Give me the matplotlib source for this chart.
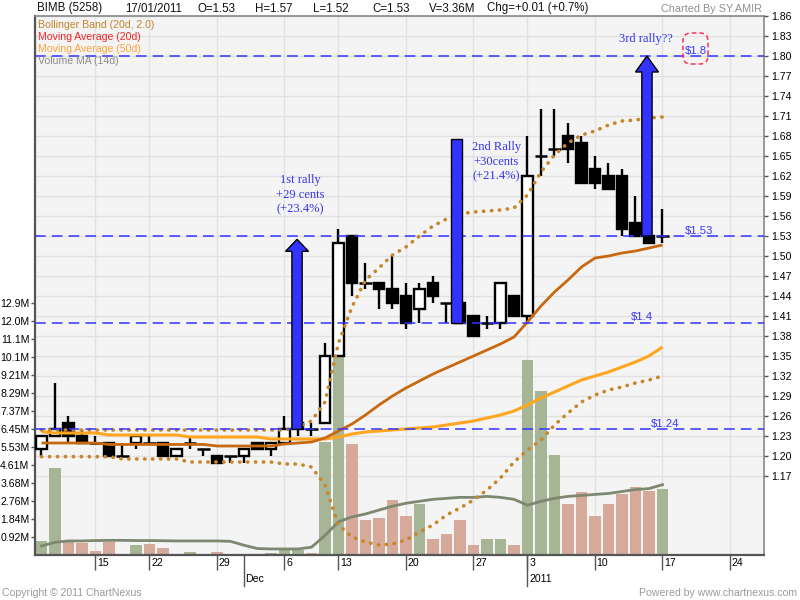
import matplotlib
matplotlib.use("Agg")
import matplotlib.pyplot as plt
import matplotlib.transforms as mtransforms
from matplotlib.patches import Rectangle, Polygon, FancyBboxPatch
import numpy as np

plt.rcParams['font.family'] = ['Liberation Sans', 'DejaVu Sans']

# ---------------- data ----------------
opens  = [1.21,1.23,1.25,1.23,1.22,1.22,1.20,1.22,1.22,1.22,1.20,1.22,1.21,1.20,1.20,1.20,1.22,1.21,1.22,1.24,
          1.24,1.25,1.35,1.53,1.46,1.46,1.45,1.44,1.42,1.46,1.43,1.43,1.41,1.40,1.40,1.44,1.41,1.65,1.66,1.68,
          1.67,1.63,1.62,1.62,1.55,1.53,1.53]
highs  = [1.23,1.31,1.26,1.24,1.23,1.22,1.22,1.23,1.23,1.22,1.21,1.23,1.21,1.20,1.20,1.21,1.22,1.22,1.26,1.25,
          1.25,1.37,1.54,1.53,1.49,1.46,1.50,1.46,1.46,1.47,1.43,1.43,1.41,1.41,1.46,1.44,1.68,1.72,1.72,1.70,
          1.68,1.65,1.64,1.63,1.59,1.53,1.57]
lows   = [1.20,1.23,1.22,1.22,1.22,1.20,1.20,1.21,1.22,1.20,1.20,1.21,1.20,1.19,1.19,1.19,1.21,1.20,1.22,1.23,
          1.23,1.25,1.35,1.44,1.45,1.42,1.42,1.39,1.40,1.43,1.40,1.40,1.38,1.39,1.39,1.41,1.40,1.62,1.65,1.64,
          1.61,1.60,1.60,1.53,1.53,1.52,1.52]
closes = [1.23,1.24,1.23,1.22,1.22,1.20,1.20,1.23,1.22,1.20,1.21,1.22,1.21,1.19,1.20,1.21,1.21,1.22,1.24,1.25,
          1.24,1.35,1.52,1.46,1.46,1.45,1.43,1.40,1.45,1.44,1.43,1.40,1.38,1.40,1.46,1.41,1.62,1.65,1.66,1.66,
          1.61,1.61,1.60,1.54,1.53,1.52,1.53]
volumes_m = [0.72,4.47,0.68,0.63,0.22,0.68,0.0,0.51,0.56,0.37,0.05,0.17,0.0,0.17,0.07,0.07,0.07,0.12,0.36,0.26,
             0.12,5.8,12.9,5.68,1.8,1.9,2.8,2.0,2.6,0.8,1.1,1.8,0.5,0.8,0.8,0.5,10.0,8.4,5.1,2.6,
             3.2,2.0,2.6,3.1,3.5,3.3,3.36]
vol_ma_m = [0.46,0.65,0.72,0.72,0.74,0.75,0.75,0.74,0.74,0.73,0.72,0.72,0.72,0.72,0.70,0.50,0.33,0.31,0.31,0.31,
            0.40,1.00,1.70,1.95,2.10,2.30,2.50,2.65,2.75,2.85,2.90,2.95,2.95,3.00,2.95,2.85,2.55,2.75,2.90,3.00,
            3.05,3.10,3.15,3.25,3.35,3.40,3.60]
ma20 = [1.2195,1.2195,1.2195,1.2195,1.2195,1.2173,1.2173,1.2173,1.2173,1.2173,1.2173,1.2173,1.2173,1.215,1.215,
        1.215,1.215,1.215,1.218,1.2195,1.221,1.227,1.2375,1.248,1.2615,1.2765,1.29,1.302,1.3125,1.323,
        1.332,1.341,1.35,1.359,1.368,1.3785,1.401,1.425,1.446,1.464,1.4835,1.497,1.50,1.5045,1.5075,1.512,1.5165]
ma50 = [1.2365,1.2345,1.2345,1.2345,1.2345,1.2315,1.2315,1.2315,1.2315,1.2315,1.2315,1.2285,1.2285,1.2285,1.2285,
        1.2285,1.2285,1.2255,1.2255,1.2255,1.2255,1.2255,1.2285,1.233,1.236,1.2375,1.239,1.2405,1.242,1.2435,
        1.2465,1.2495,1.2525,1.257,1.2615,1.2675,1.2765,1.287,1.296,1.305,1.314,1.32,1.326,1.3335,1.341,1.35,1.3635]
bb_upper = [1.239,1.239,1.239,1.239,1.239,1.239,1.239,1.239,1.239,1.239,1.239,1.239,1.239,1.239,1.239,1.239,
            1.239,1.239,1.239,1.2435,1.2525,1.281,1.3695,1.4235,1.464,1.482,1.5015,1.5135,1.53,1.545,1.5555,
            1.563,1.566,1.5675,1.569,1.572,1.5915,1.626,1.6515,1.6695,1.6815,1.6875,1.6965,1.7025,1.704,1.707,1.7085]
bb_lower = [1.199,1.199,1.199,1.199,1.199,1.199,1.1955,1.1955,1.1955,1.1955,1.1955,1.191,1.191,1.191,1.191,1.191,
            1.191,1.191,1.188,1.188,1.1835,1.1565,1.0965,1.0785,1.071,1.0665,1.068,1.074,1.086,1.0965,1.1115,
            1.122,1.134,1.149,1.167,1.191,1.209,1.224,1.2465,1.2645,1.281,1.2915,1.299,1.3035,1.3095,1.314,1.32]

date_tick_pos = [4, 8, 13, 18, 22, 27, 32, 36, 41, 46, 51]
date_tick_labels = ['15', '22', '29', '6', '13', '20', '27', '3', '10', '17', '24']
month_tick_pos = [15, 36]
month_tick_labels = ['Dec', '2011']

price_ticks = [1.17, 1.20, 1.23, 1.26, 1.29, 1.32, 1.35, 1.38, 1.41, 1.44, 1.47, 1.50, 1.53, 1.56, 1.59,
               1.62, 1.65, 1.68, 1.71, 1.74, 1.77, 1.80, 1.83, 1.86]
vol_tick_values = [0.9214, 1.8428, 2.7642, 3.6856, 4.607, 5.5284, 6.4498, 7.3712, 8.2926, 9.214, 10.1354,
                   11.0568, 11.9782, 12.8996]
vol_tick_labels = ['0.92M', '1.84M', '2.76M', '3.68M', '4.61M', '5.53M', '6.45M', '7.37M', '8.29M', '9.21M',
                   '10.1M', '11.1M', '12.0M', '12.9M']

levels = [1.80, 1.53, 1.40, 1.24]
level_labels = ['$1.8', '$1.53', '$1.4', '$1.24']
level_label_x = [48.5, 48.7, 44.5, 46.2]

rally_x = [18.93, 30.75, 44.85]
rally_from = [1.24, 1.40, 1.53]
rally_to = [1.525, 1.675, 1.80]
rally_texts = ['1st rally\n+29 cents\n(+23.4%)', '2nd Rally\n+30cents\n(+21.4%)', '3rd rally??']
rally_text_x = [19.15, 33.7, 44.75]
rally_text_y = [1.592, 1.641, 1.8255]

header_items = [('BIMB (5258)', 37), ('17/01/2011', 125), ('O=1.53', 197), ('H=1.57', 255),
                ('L=1.52', 313), ('C=1.53', 372), ('V=3.36M', 429), ('Chg=+0.01 (+0.7%)', 487)]

# ---------------- figure ----------------
W, H = 800, 600
fig = plt.figure(figsize=(8, 6), dpi=100)
fig.patch.set_facecolor('white')
L, R, T, B = 35, 764, 16, 555
axv = fig.add_axes([L / W, (H - B) / H, (R - L) / W, (B - T) / H])
axp = axv.twinx()
axp.patch.set_visible(False)
axv.set_facecolor('#F4F4F4')

PMIN, PMAX = 1.0515, 1.86
VMAX = (B - T) / 18.0 * 0.9214
axp.set_ylim(PMIN, PMAX)
axv.set_ylim(0, VMAX)
axv.set_xlim(-0.48, 53.52)

n = len(opens)
x = np.arange(n)

# gridlines (drawn on the volume axes so they are behind everything)
grid_c = '#E1E1E1'
for p in price_ticks:
    axv.axhline((p - PMIN) / (PMAX - PMIN) * VMAX, color=grid_c, lw=1, zorder=0)
for d in date_tick_pos:
    axv.axvline(d, color=grid_c, lw=1, zorder=0)

# volume bars
vcol = []
for i in range(n):
    up = i == 0 or closes[i] > closes[i - 1]
    vcol.append('#A6B596' if up else '#D5AA9A')
axv.bar(x, volumes_m, width=0.86, color=vcol, zorder=2, linewidth=0)
axv.plot(x, vol_ma_m, color='#7E876F', lw=2, zorder=3)

# candles
for i in range(n):
    o, h, l, c = opens[i], highs[i], lows[i], closes[i]
    axp.vlines(i, l, h, color='black', lw=1.7, zorder=3)
    if abs(c - o) < 1e-9:
        axp.hlines(c, i - 0.45, i + 0.45, color='black', lw=1.8, zorder=4)
    else:
        fc = 'white' if c > o else 'black'
        axp.add_patch(Rectangle((i - 0.38, min(o, c)), 0.76, abs(c - o), facecolor=fc,
                                edgecolor='black', lw=1.7, zorder=4))

# moving averages and Bollinger band
axp.plot(x, ma50, color='#FFA51F', lw=2.2, zorder=5, solid_capstyle='butt')
axp.plot(x, ma20, color='#C8680F', lw=2.0, zorder=5, solid_capstyle='butt')
for band in (bb_upper, bb_lower):
    axp.plot(x, band, color='#C8862A', lw=2.6, linestyle=(0, (0.1, 2.1)),
             dash_capstyle='round', zorder=6)

# support / resistance dashed lines
for lv in levels:
    axp.axhline(lv, color='#3333FF', lw=1.1, dashes=(7, 4), zorder=7)
for lv, lab, lx in zip(levels, level_labels, level_label_x):
    axp.text(lx, lv + 0.008, lab, color='#3A3AF5', fontsize=8.2, ha='center', va='center', zorder=9)

# rally arrows
ppx = (PMAX - PMIN) / (B - T)  # price per pixel
for k, (xc, y0, y1) in enumerate(zip(rally_x, rally_from, rally_to)):
    sw = 0.38
    if k == 1:
        poly = [(xc - sw, y0), (xc + sw, y0), (xc + sw, y1), (xc - sw, y1)]
    else:
        hw = 0.85
        hl = (12 if k == 0 else 16) * ppx
        poly = [(xc - sw, y0), (xc + sw, y0), (xc + sw, y1 - hl), (xc + hw, y1 - hl), (xc, y1),
                (xc - hw, y1 - hl), (xc - sw, y1 - hl)]
    axp.add_patch(Polygon(poly, closed=True, facecolor='#3333FF', edgecolor='black', lw=1.0, zorder=8))

for t, tx, ty in zip(rally_texts, rally_text_x, rally_text_y):
    axp.text(tx, ty, t, color='#3434F0', fontsize=9, family=['Liberation Serif', 'DejaVu Serif'],
             ha='center', va='center', linespacing=1.3 if '\n' in t else 1.0, zorder=9)

# red dashed rounded box around $1.8
box = FancyBboxPatch((683 / 100, (H - 64) / 100), 0.25, 0.31,
                     boxstyle='round,pad=0,rounding_size=0.08', transform=fig.dpi_scale_trans,
                     facecolor='none', edgecolor='#FF2F55', lw=1.1, linestyle=(0, (3, 2)), zorder=10)
fig.patches.append(box)

# axes styling
for sp in ('left', 'bottom'):
    axv.spines[sp].set_color('#555555')
    axv.spines[sp].set_linewidth(1.6)
for sp in ('top', 'right'):
    axv.spines[sp].set_color('#888888')
    axv.spines[sp].set_linewidth(1.2)
for sp in axp.spines.values():
    sp.set_visible(False)

axv.set_yticks(vol_tick_values)
axv.set_yticklabels(vol_tick_labels)
axv.tick_params(axis='y', length=3, width=1, color='#555555', labelsize=7.6, pad=1)
axp.set_yticks(price_ticks)
axp.set_yticklabels([f'{p:.2f}' for p in price_ticks])
axp.tick_params(axis='y', length=3, width=1, color='#555555', labelsize=7.6, pad=2)

axv.set_xticks(date_tick_pos)
axv.set_xticklabels([])
axv.tick_params(axis='x', length=11, width=1, color='#555555')

tr = mtransforms.blended_transform_factory(axv.transData, axv.transAxes)
for d, lab in zip(date_tick_pos, date_tick_labels):
    axv.text(d + 0.12, -8 / (B - T), lab, transform=tr, fontsize=7.6, ha='left', va='center')
for d, lab in zip(month_tick_pos, month_tick_labels):
    axv.plot([d, d], [0, -31 / (B - T)], transform=tr, color='#555555', lw=1, clip_on=False)
    axv.text(d + 0.12, -24 / (B - T), lab, transform=tr, fontsize=7.6, ha='left', va='center')

# legend texts
leg = [('Bollinger Band (20d, 2.0)', '#C0852C'), ('Moving Average (20d)', '#F02828'),
       ('Moving Average (50d)', '#FFA53A'), ('Volume MA (14d)', '#8A8A8A')]
for k, (t, c) in enumerate(leg):
    fig.text(38 / W, 1 - (24.5 + 12.2 * k) / H, t, color=c, fontsize=7.6, ha='left', va='center')

# header
for t, px in header_items:
    fig.text(px / W, 1 - 8.5 / H, t, fontsize=8.3, ha='left', va='center', color='#111111')
fig.text(762 / W, 1 - 8.5 / H, 'Charted By SY.AMIR', fontsize=7.8, ha='right', va='center', color='#909090')
fig.text(2 / W, 1 - 593 / H, 'Copyright \u00a9 2011 ChartNexus', fontsize=7.6, ha='left', va='center',
         color='#9A9A9A')
fig.text(797 / W, 1 - 593 / H, 'Powered by www.chartnexus.com', fontsize=7.6, ha='right', va='center',
         color='#9A9A9A')

fig.savefig('out.png', dpi=100, facecolor='white')
